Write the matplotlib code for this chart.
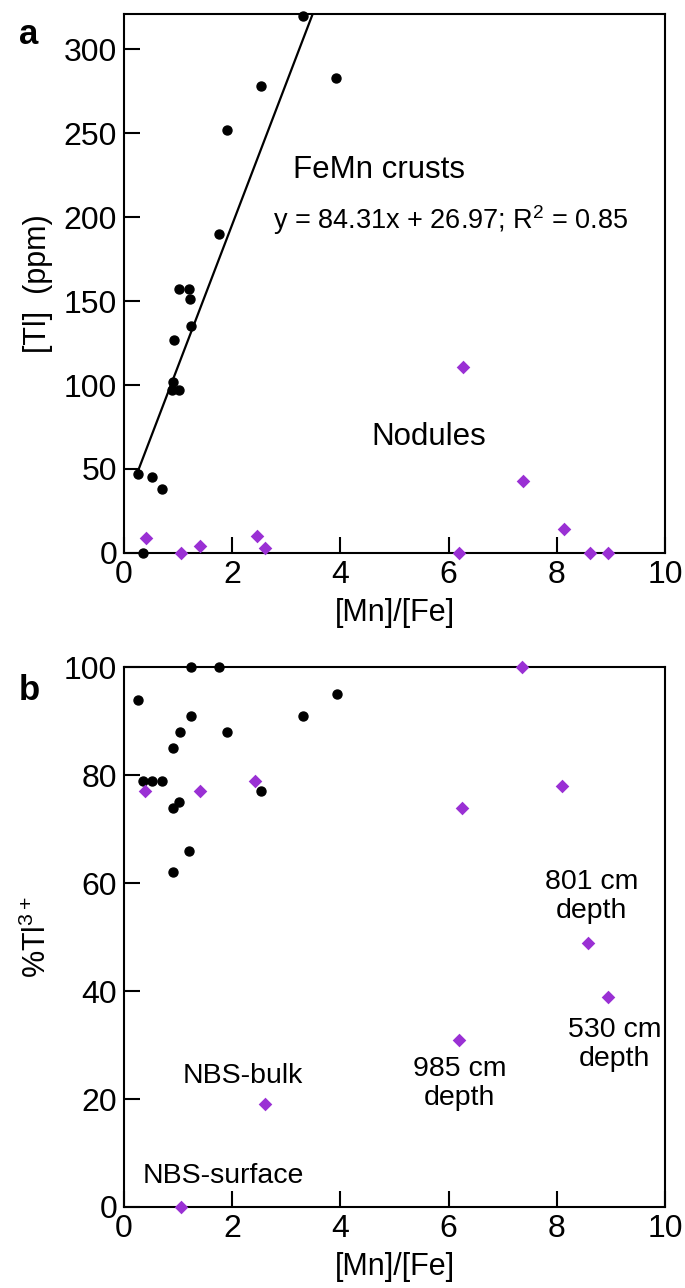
import numpy as np
import matplotlib
matplotlib.use("Agg")
import matplotlib.pyplot as plt

plt.rcParams["font.family"] = ["Liberation Sans", "DejaVu Sans"]
plt.rcParams["mathtext.fontset"] = "custom"
plt.rcParams["mathtext.rm"] = "Liberation Sans"

# ---------------- data ----------------
# FeMn crusts (black circles)
crust_mnfe = [3.30, 3.92, 2.53, 1.90, 1.76, 1.02, 1.20, 1.22, 1.23, 0.93,
              0.91, 0.89, 1.02, 0.25, 0.52, 0.70, 0.36]
crust_tl = [320, 283, 278, 252, 190, 157, 157, 151, 135, 127,
            102, 97, 97, 47, 45, 38, 0]

# Nodules (purple diamonds)
nod_mnfe = [0.40, 1.05, 1.41, 2.46, 2.60, 6.26, 6.20, 7.38, 8.13, 8.62, 8.95]
nod_tl = [9, 0, 4, 10, 3, 111, 0, 43, 14, 0, 0]

# panel b: %Tl3+
crust_b_mnfe = [0.25, 0.36, 0.52, 0.70, 0.90, 1.03, 0.90, 1.02, 0.90, 1.21,
                1.24, 1.23, 1.76, 1.91, 2.54, 3.30, 3.93]
crust_tl3 = [94, 79, 79, 79, 85, 88, 74, 75, 62, 66,
             91, 100, 100, 88, 77, 91, 95]
nod_b_mnfe = [0.39, 1.05, 1.40, 2.43, 2.60, 6.24, 6.20, 7.35, 8.09, 8.57, 8.95]
nod_tl3 = [77, 0, 77, 79, 19, 74, 31, 100, 78, 49, 39]

# regression from the figure
slope, intercept = 84.31, 26.97
fit_x = [0.25, 3.6]

x_ticks = [0, 2, 4, 6, 8, 10]
a_yticks = [0, 50, 100, 150, 200, 250, 300]
b_yticks = [0, 20, 40, 60, 80, 100]

PURPLE = "#9a30d4"

fig = plt.figure(figsize=(6.85, 12.88), dpi=100)
ax_a = fig.add_axes([0.181, 0.5707, 0.790, 0.4185])
ax_b = fig.add_axes([0.181, 0.0629, 0.790, 0.4190])


def style(ax):
    for s in ax.spines.values():
        s.set_linewidth(1.5)
    ax.tick_params(direction="in", length=11.5, width=1.5, labelsize=23, pad=5)
    ax.set_xlim(0, 10)
    ax.set_xticks(x_ticks)
    ax.set_xlabel("[Mn]/[Fe]", fontsize=22, labelpad=6)


# ---------- panel a ----------
fx = np.array(fit_x)
ax_a.plot(fx, slope * fx + intercept, color="black", lw=1.6, zorder=2)
ax_a.scatter(crust_mnfe, crust_tl, s=42, color="black", zorder=3, clip_on=False)
ax_a.scatter(nod_mnfe, nod_tl, s=48, marker="D", color=PURPLE, zorder=3,
             clip_on=False, linewidths=0)
style(ax_a)
ax_a.set_ylim(0, 321)
ax_a.set_yticks(a_yticks)
ax_a.set_ylabel("[Tl]  (ppm)", fontsize=22, labelpad=8)
ax_a.text(3.12, 228, "FeMn crusts", fontsize=22.5, va="center", ha="left")
ax_a.text(2.75, 198, "y = 84.31x + 26.97; R$^{2}$ = 0.85", fontsize=19.5,
          va="center", ha="left")
ax_a.text(5.64, 69, "Nodules", fontsize=22.5, va="center", ha="center")
fig.text(0.028, 0.973, "a", fontsize=25, fontweight="bold", va="center")

# ---------- panel b ----------
ax_b.scatter(crust_b_mnfe, crust_tl3, s=42, color="black", zorder=3, clip_on=False)
ax_b.scatter(nod_b_mnfe, nod_tl3, s=48, marker="D", color=PURPLE, zorder=3,
             clip_on=False, linewidths=0)
style(ax_b)
ax_b.set_ylim(0, 100)
ax_b.set_yticks(b_yticks)
ax_b.set_ylabel("%Tl$^{3+}$", fontsize=22, labelpad=8)

ann = dict(fontsize=20.5, ha="center", va="center", linespacing=1.15)
ax_b.text(8.64, 57.6, "801 cm\ndepth", **ann)
ax_b.text(9.06, 30.2, "530 cm\ndepth", **ann)
ax_b.text(6.20, 22.9, "985 cm\ndepth", **ann)
ax_b.text(2.19, 24.3, "NBS-bulk", **ann)
ax_b.text(1.84, 5.7, "NBS-surface", **ann)
fig.text(0.028, 0.464, "b", fontsize=25, fontweight="bold", va="center")

fig.savefig("out.png", dpi=100)
